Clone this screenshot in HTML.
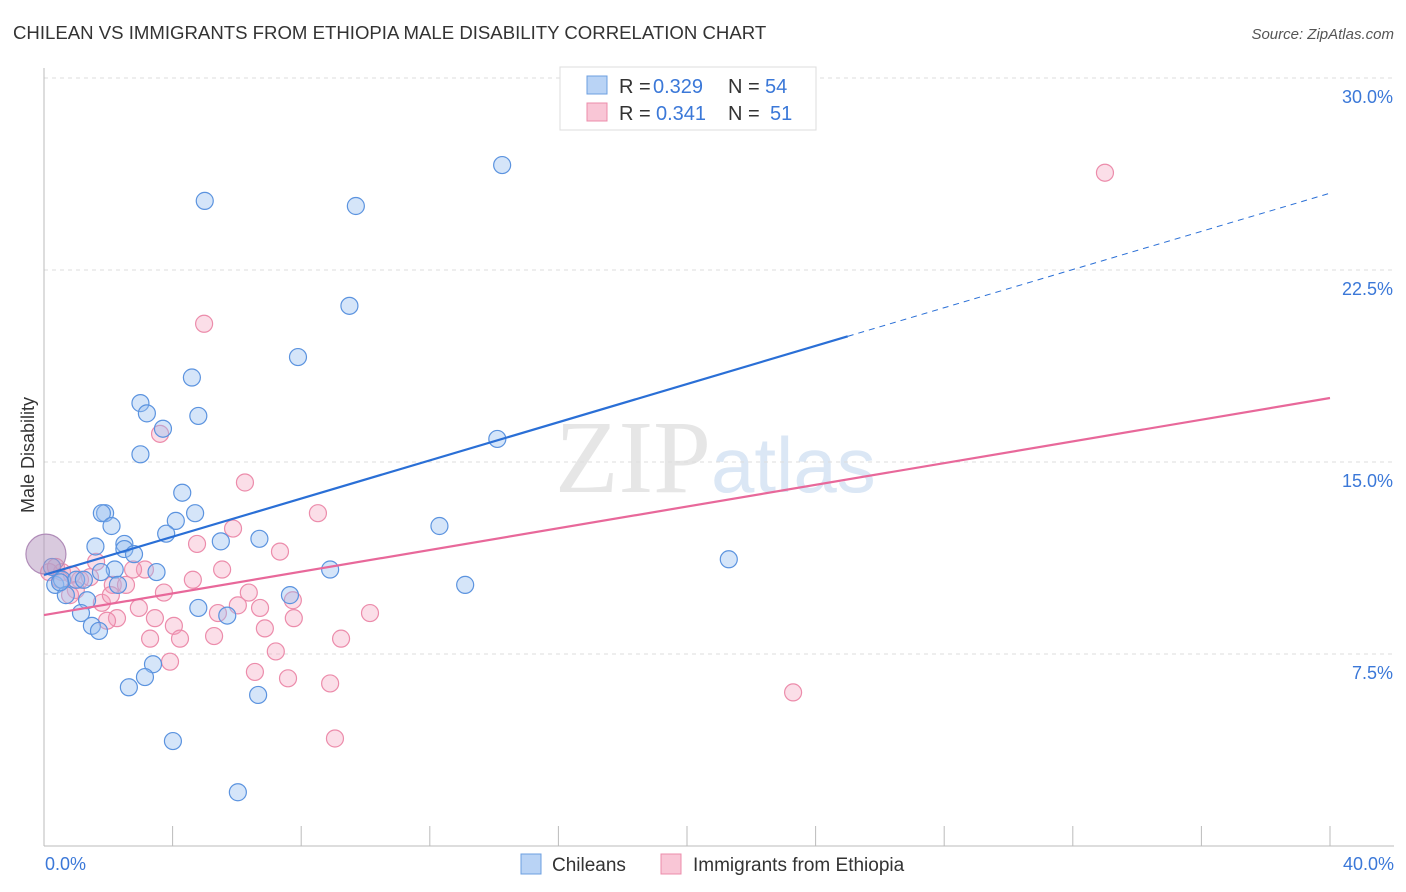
<!DOCTYPE html>
<html><head><meta charset="utf-8"><style>
body{margin:0;background:#fff;font-family:"Liberation Sans",sans-serif}
svg{display:block}
</style></head><body>
<svg id="c" width="1406" height="892">
<text x="13" y="39" font-size="18.6" fill="#333">CHILEAN VS IMMIGRANTS FROM ETHIOPIA MALE DISABILITY CORRELATION CHART</text>
<text x="1394" y="39" font-size="15" fill="#555" font-style="italic" text-anchor="end">Source: ZipAtlas.com</text>
<text x="555" y="492" font-size="104" fill="#e6e6e6" font-family="Liberation Serif,serif">ZIP<tspan fill="#dbe7f5" font-family="Liberation Sans,sans-serif" font-size="78">atlas</tspan></text>
<g id="grid"></g><g id="pts"></g><g id="lines"></g>
<text x="34" y="455" font-size="18" fill="#333" text-anchor="middle" transform="rotate(-90 34 455)">Male Disability</text>
<text x="45" y="870" font-size="18" fill="#3b78d8">0.0%</text>
<text x="1394" y="870" font-size="18" fill="#3b78d8" text-anchor="end">40.0%</text>
<g>
<rect x="560" y="67" width="256" height="63" fill="#fff" stroke="#ddd"/>
<rect x="587" y="76" width="20" height="18" fill="#b9d3f5" stroke="#6c9fe0"/>
<rect x="587" y="103" width="20" height="18" fill="#f9c6d6" stroke="#ec8cab"/>
<text x="619" y="93" font-size="20" fill="#333">R =</text>
<text x="653" y="93" font-size="20" fill="#3b78d8">0.329</text>
<text x="728" y="93" font-size="20" fill="#333">N =</text>
<text x="765" y="93" font-size="20" fill="#3b78d8">54</text>
<text x="619" y="120" font-size="20" fill="#333">R =</text>
<text x="656" y="120" font-size="20" fill="#3b78d8">0.341</text>
<text x="728" y="120" font-size="20" fill="#333">N =</text>
<text x="770" y="120" font-size="20" fill="#3b78d8">51</text>
</g>
<g>
<rect x="521" y="854" width="20" height="20" fill="#b9d3f5" stroke="#6c9fe0"/>
<text x="552" y="871" font-size="19" fill="#333">Chileans</text>
<rect x="661" y="854" width="20" height="20" fill="#f9c6d6" stroke="#ec8cab"/>
<text x="693" y="871" font-size="19" fill="#333">Immigrants from Ethiopia</text>
</g>
</svg>
<script>
const yTicks=[7.5,15,22.5,30];
const xTicks=[0,4,8,12,16,20,24,28,32,36,40];
const blueX=[14.25,5.0,9.7,9.5,7.9,4.6,3.0,3.2,4.8,3.7,14.1,3.0,4.3,1.9,1.8,4.7,2.1,4.1,12.3,3.8,5.5,6.7,1.6,2.5,2.5,2.8,21.3,2.2,3.5,8.9,0.25,0.35,0.56,1.0,1.24,1.77,13.1,2.3,0.68,1.34,4.8,5.7,7.65,1.15,1.49,1.71,3.39,3.14,2.64,6.66,4.01,6.03,0.06,0.5];
const blueY=[26.6,25.2,25.0,21.1,19.1,18.3,17.3,16.9,16.8,16.3,15.9,15.3,13.8,13.0,13.0,13.0,12.5,12.7,12.5,12.2,11.9,12.0,11.7,11.8,11.6,11.4,11.2,10.8,10.7,10.8,10.9,10.2,10.4,10.4,10.4,10.7,10.2,10.2,9.8,9.6,9.3,9.0,9.8,9.1,8.6,8.4,7.1,6.6,6.2,5.9,4.1,2.1,11.4,10.3];
const pinkX=[33.0,4.98,3.61,6.25,8.52,5.88,4.76,7.34,1.62,5.54,3.14,2.77,4.63,0.56,0.87,1.12,2.14,2.55,3.73,6.37,0.99,0.81,1.80,7.74,10.14,5.41,6.03,6.72,2.27,1.96,2.95,3.45,7.77,4.04,6.87,3.3,4.23,5.29,9.24,7.21,3.92,6.56,7.59,8.9,23.3,9.05,0.16,0.37,1.43,2.08,0.5];
const pinkY=[26.3,20.4,16.1,14.2,13.0,12.4,11.8,11.5,11.1,10.8,10.8,10.8,10.4,10.7,10.6,10.4,10.2,10.2,9.9,9.9,10.0,9.8,9.5,9.6,9.1,9.1,9.4,9.3,8.9,8.8,9.3,8.9,8.9,8.6,8.5,8.1,8.1,8.2,8.1,7.6,7.2,6.8,6.55,6.35,6.0,4.2,10.7,10.9,10.5,9.8,10.4];
const blueFit=[10.59,25.5], pinkFit=[9.02,17.5];
const X=v=>44+v/40*1286, Y=v=>846-v*25.6;
const NS='http://www.w3.org/2000/svg';
function mk(p,t,a){const e=document.createElementNS(NS,t);for(const k in a)e.setAttribute(k,a[k]);p.appendChild(e);return e;}
const g=document.getElementById('grid');
yTicks.forEach(v=>{
 const l=mk(g,'line',{x1:44,x2:1394,y1:Y(v),y2:Y(v),stroke:'#ddd','stroke-dasharray':'4,4'});
 
 
 const t=mk(g,'text',{x:1393,y:Y(v)+25,'font-size':18,fill:'#3b78d8','text-anchor':'end'});t.textContent=v.toFixed(1)+'%';
 
 
});
mk(g,'line',{x1:44,x2:44,y1:68,y2:846,stroke:'#bbb'});
mk(g,'line',{x1:44,x2:1394,y1:846,y2:846,stroke:'#bbb'});
xTicks.forEach(v=>{const l=mk(g,'line',{x1:X(v),x2:X(v),y1:826,y2:846,stroke:'#bbb'});
 
 });
const p=document.getElementById('pts');
pinkX.forEach((x,i)=>{const c=mk(p,'circle',{cx:X(x),cy:Y(pinkY[i]),r:8.5,fill:'rgba(244,160,188,0.35)',stroke:'#ec8cab','stroke-width':1.2});
 
 });
blueX.forEach((x,i)=>{const c=mk(p,'circle',{cx:X(x),cy:Y(blueY[i]),r:i==52?20:8.5,fill:i==52?'rgba(180,150,190,0.5)':'rgba(150,190,240,0.4)',stroke:i==52?'#b08cb8':'#5b93df','stroke-width':1.2});
 
 });
const L=document.getElementById('lines');
const bx=25;const by=blueFit[0]+(blueFit[1]-blueFit[0])*bx/40;
let e=mk(L,'line',{x1:X(0),y1:Y(blueFit[0]),x2:X(bx),y2:Y(by),stroke:'#2a6fd6','stroke-width':2.2});


e=mk(L,'line',{x1:X(bx),y1:Y(by),x2:X(40),y2:Y(blueFit[1]),stroke:'#2a6fd6','stroke-width':1,'stroke-dasharray':'6,5'});


e=mk(L,'line',{x1:X(0),y1:Y(pinkFit[0]),x2:X(40),y2:Y(pinkFit[1]),stroke:'#e8689a','stroke-width':2.2});


</script>
</body></html>
